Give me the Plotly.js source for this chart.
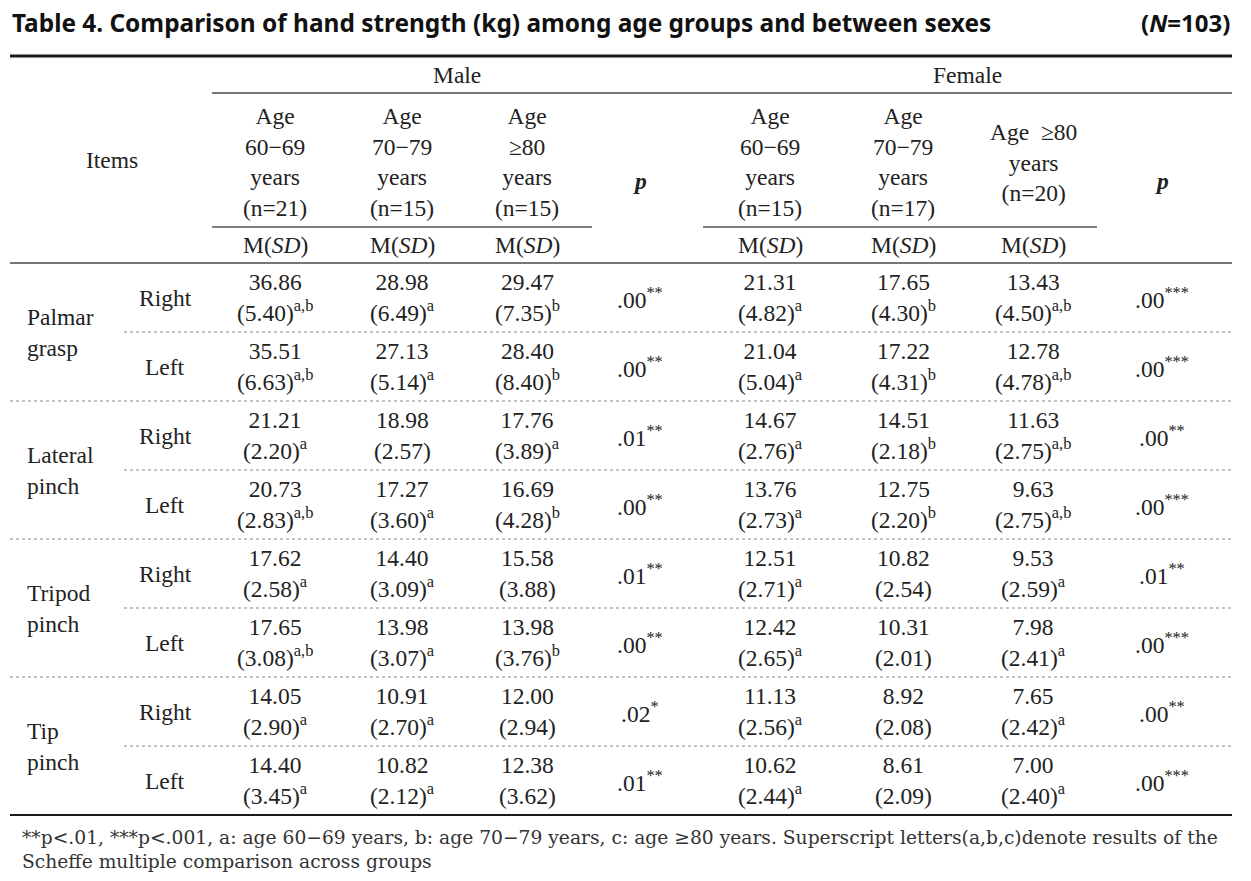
<!DOCTYPE html>
<html><head><meta charset="utf-8">
<script src="https://cdn.plot.ly/plotly-3.0.1.min.js"></script>
<style>html,body{margin:0;padding:0;background:#fff}#chart{width:1251px;height:881px}</style>
</head><body><div id="chart"></div>
<script>
// ---------- DATA ----------
const items = ['Palmar<br>grasp', 'Lateral<br>pinch', 'Tripod<br>pinch', 'Tip<br>pinch'];
const sides = ['Right', 'Left'];
const maleGroups = ['Age<br>60−69<br>years<br>(n=21)', 'Age<br>70−79<br>years<br>(n=15)', 'Age<br>≥80<br>years<br>(n=15)'];
const femaleGroups = ['Age<br>60−69<br>years<br>(n=15)', 'Age<br>70−79<br>years<br>(n=17)', 'Age  ≥80<br>years<br>(n=20)'];
const maleMean = [[36.86,28.98,29.47],[35.51,27.13,28.40],[21.21,18.98,17.76],[20.73,17.27,16.69],[17.62,14.40,15.58],[17.65,13.98,13.98],[14.05,10.91,12.00],[14.40,10.82,12.38]];
const maleSD = [[5.40,6.49,7.35],[6.63,5.14,8.40],[2.20,2.57,3.89],[2.83,3.60,4.28],[2.58,3.09,3.88],[3.08,3.07,3.76],[2.90,2.70,2.94],[3.45,2.12,3.62]];
const maleSup = [['a,b','a','b'],['a,b','a','b'],['a','','a'],['a,b','a','b'],['a','a',''],['a,b','a','b'],['a','a',''],['a','a','']];
const maleP = ['.00','.00','.01','.00','.01','.00','.02','.01'];
const maleSig = ['**','**','**','**','**','**','*','**'];
const femaleMean = [[21.31,17.65,13.43],[21.04,17.22,12.78],[14.67,14.51,11.63],[13.76,12.75,9.63],[12.51,10.82,9.53],[12.42,10.31,7.98],[11.13,8.92,7.65],[10.62,8.61,7.00]];
const femaleSD = [[4.82,4.30,4.50],[5.04,4.31,4.78],[2.76,2.18,2.75],[2.73,2.20,2.75],[2.71,2.54,2.59],[2.65,2.01,2.41],[2.56,2.08,2.42],[2.44,2.09,2.40]];
const femaleSup = [['a','b','a,b'],['a','b','a,b'],['a','b','a,b'],['a','b','a,b'],['a','','a'],['a','','a'],['a','','a'],['a','','a']];
const femaleP = ['.00','.00','.00','.00','.01','.00','.00','.00'];
const femaleSig = ['***','***','**','***','**','***','**','***'];
const titleText = '<b>Table 4. Comparison of hand strength (kg) among age groups and between sexes</b>';
const nText = '<b>(<i>N</i>=103)</b>';
const footnote = '**p<.01, ***p<.001, a: age 60−69 years, b: age 70−79 years, c: age ≥80 years. Superscript letters(a,b,c)denote results of the<br>Scheffe multiple comparison across groups';

// ---------- LAYOUT GEOMETRY ----------
const L = 10, R = 1232;
const maleX = [275, 402, 527], malePX = 640;
const femaleX = [770, 903, 1033], femalePX = 1162;
const itemX = 25, sideX = 165;
const rowTop = 263, rowH = 69;
const serif = 'Liberation Serif, Times New Roman, serif';
const ink = '#222';
const fs = 23.5;

const ann = [];
const shp = [];
function txt(x, y, text, opt) {
  opt = opt || {};
  ann.push(Object.assign({
    x: x, y: y, xref: 'x', yref: 'y', text: text, showarrow: false,
    xanchor: 'center', yanchor: 'middle', align: 'center',
    font: {family: serif, size: fs, color: ink}
  }, opt));
}
function line(x0, x1, y, w, c, dash) {
  shp.push({type: 'line', xref: 'x', yref: 'y', x0: x0, x1: x1, y0: y, y1: y,
    line: {width: w, color: c, dash: dash || 'solid'}});
}

// title
const sans = 'Noto Sans, DejaVu Sans, sans-serif';
txt(L, 22, titleText, {xanchor: 'left', font: {family: sans, size: 24.4, color: '#111'}});
txt(R, 22, nText, {xanchor: 'right', font: {family: sans, size: 24, color: '#111'}});

// header lines
line(L, R, 56, 3, '#1a1a1a');
line(212, R, 93, 2, '#777');
line(212, 592, 227, 1.5, '#555');
line(703, 1097, 227, 1.5, '#555');
line(L, R, rowTop, 2, '#777');

// header text
txt(457, 75, 'Male');
txt(967, 75, 'Female');
txt(112, 160, 'Items');
maleGroups.forEach((g, i) => txt(maleX[i], 162, g));
femaleGroups.forEach((g, i) => txt(femaleX[i], 162, g));
txt(malePX, 181, '<b><i>p</i></b>');
txt(femalePX, 181, '<b><i>p</i></b>');
maleX.forEach(x => txt(x, 245, 'M(<i>SD</i>)'));
femaleX.forEach(x => txt(x, 245, 'M(<i>SD</i>)'));

// body
function cell(m, sd, sup) {
  return m.toFixed(2) + '<br>(' + sd.toFixed(2) + ')' + (sup ? '<sup>' + sup + '</sup>' : '');
}
items.forEach((it, g) => {
  const gTop = rowTop + g * 2 * rowH;
  txt(itemX, gTop + rowH, it, {xanchor: 'left', align: 'left'});
  sides.forEach((s, k) => {
    const r = g * 2 + k;
    const yc = rowTop + r * rowH + rowH / 2;
    txt(sideX, yc, s);
    maleX.forEach((x, c) => txt(x, yc, cell(maleMean[r][c], maleSD[r][c], maleSup[r][c])));
    femaleX.forEach((x, c) => txt(x, yc, cell(femaleMean[r][c], femaleSD[r][c], femaleSup[r][c])));
    txt(malePX, yc, maleP[r] + '<sup>' + maleSig[r] + '</sup>');
    txt(femalePX, yc, femaleP[r] + '<sup>' + femaleSig[r] + '</sup>');
  });
  line(124, R, gTop + rowH, 1, '#888', 'dot');
  if (g < items.length - 1) line(L, R, gTop + 2 * rowH, 1, '#888', 'dot');
  else line(L, R, gTop + 2 * rowH, 2, '#1a1a1a');
});

// footnote
txt(20, 849, footnote, {xanchor: 'left', align: 'left', font: {family: 'DejaVu Serif, Liberation Serif, serif', size: 18.7, color: '#333'}});

Plotly.newPlot('chart', [], {
  width: 1251, height: 881,
  margin: {l: 0, r: 0, t: 0, b: 0},
  paper_bgcolor: '#fff', plot_bgcolor: '#fff',
  xaxis: {range: [0, 1251], visible: false, fixedrange: true},
  yaxis: {range: [881, 0], visible: false, fixedrange: true},
  showlegend: false,
  annotations: ann, shapes: shp
}, {displayModeBar: false});
</script>
</body></html>
